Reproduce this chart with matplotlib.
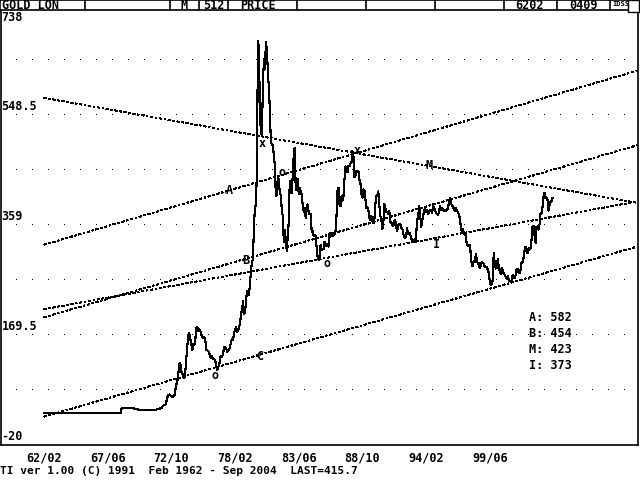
import matplotlib
matplotlib.use("Agg")
import matplotlib.pyplot as plt
from matplotlib.lines import Line2D
from matplotlib.patches import Rectangle
import numpy as np

# ---------------- data (monthly London gold, Feb 1962 - Sep 2004) ----------------
gold_1962_1967 = [35.1] * 11 + [35.1] * 12 * 4 + [35.2] * 12
gold_1968_1971 = [35.2, 35.2, 35.2, 35.2, 35.2, 35.2, 35.2, 43.0, 43.5, 43.3, 43.0, 43.0,
                  43.0, 43.5, 43.5, 43.3, 43.5, 43.0, 43.0, 43.0, 42.5, 42.0, 41.5, 41.5,
                  41.0, 41.0, 41.0, 40.5, 40.5, 40.5, 40.5, 40.5, 40.5, 40.5, 40.5, 40.5,
                  40.5, 40.5, 40.5, 40.5, 41.0, 41.0, 41.0, 42.7, 42.0, 42.5, 42.9, 43.5]
gold_1972_1979 = [45.8, 48.3, 48.3, 49.0, 54.6, 62.1, 65.7, 67.0, 65.5, 64.9, 62.9, 63.9,
                  65.1, 74.2, 84.4, 90.5, 102.0, 120.1, 120.4, 106.8, 103.0, 100.1, 94.8, 106.7,
                  129.2, 150.2, 168.4, 172.2, 163.3, 154.1, 143.0, 154.6, 151.8, 158.8, 181.7, 183.9,
                  176.3, 179.6, 178.2, 170.0, 167.0, 164.3, 165.2, 163.1, 144.6, 142.8, 142.5, 139.3,
                  131.6, 130.7, 132.7, 128.1, 128.0, 125.7, 117.6, 109.3, 114.3, 116.1, 130.2, 133.7,
                  132.3, 136.4, 148.5, 149.3, 146.6, 140.8, 143.4, 144.6, 149.1, 158.6, 162.1, 160.5,
                  173.0, 178.0, 183.7, 175.3, 176.3, 183.7, 188.7, 206.0, 212.1, 227.3, 206.1, 207.8,
                  227.3, 245.7, 242.0, 239.2, 257.6, 279.1, 294.7, 301.0, 355.2, 392.0, 392.1, 455.1]
gold_1980_1989 = [675.3, 665.3, 553.6, 517.4, 513.8, 600.7, 644.3, 627.0, 673.8, 661.1, 623.5, 594.9,
                  557.4, 500.5, 498.7, 495.8, 479.7, 460.8, 409.3, 410.1, 443.1, 437.8, 413.4, 410.1,
                  384.2, 374.1, 330.2, 350.2, 333.9, 314.9, 339.0, 364.3, 435.0, 422.2, 414.1, 444.3,
                  481.3, 492.0, 420.0, 432.6, 437.9, 413.0, 422.8, 416.1, 411.8, 393.8, 381.8, 388.0,
                  370.8, 386.0, 394.4, 381.2, 377.6, 377.9, 347.8, 348.0, 341.1, 340.2, 341.2, 320.2,
                  303.0, 299.1, 304.2, 325.3, 316.7, 316.9, 317.4, 330.1, 323.3, 326.3, 325.2, 321.8,
                  345.4, 338.9, 345.7, 340.4, 342.4, 342.6, 348.4, 376.7, 418.0, 423.5, 394.9, 391.0,
                  408.3, 401.0, 408.9, 438.3, 460.2, 449.6, 450.5, 460.8, 460.0, 465.3, 467.1, 486.2,
                  477.3, 442.0, 443.6, 451.7, 451.4, 451.8, 437.4, 431.4, 413.0, 406.3, 420.2, 418.7,
                  404.0, 387.8, 390.2, 384.3, 371.0, 367.6, 375.0, 365.4, 361.9, 366.9, 394.3, 409.0]
gold_1990_1999 = [410.1, 416.8, 393.1, 374.3, 369.2, 352.3, 362.5, 394.7, 389.3, 380.8, 381.8, 378.2,
                  383.6, 363.8, 363.3, 358.4, 356.8, 366.7, 367.7, 356.3, 348.7, 358.7, 359.9, 361.1,
                  354.5, 353.9, 344.3, 338.6, 337.2, 340.8, 353.1, 342.9, 345.4, 344.4, 335.0, 334.8,
                  329.0, 329.3, 329.9, 341.8, 367.5, 371.9, 392.0, 378.8, 355.3, 364.2, 373.8, 383.3,
                  386.9, 381.9, 384.1, 377.3, 381.4, 385.6, 385.5, 380.4, 391.6, 389.8, 384.4, 379.3,
                  378.6, 376.5, 382.1, 391.0, 385.2, 387.6, 386.2, 383.7, 383.1, 383.1, 386.0, 387.4,
                  400.0, 404.8, 396.3, 392.8, 392.0, 385.3, 383.5, 387.5, 383.1, 381.1, 377.8, 369.0,
                  355.0, 346.6, 351.8, 344.5, 343.8, 340.8, 324.1, 323.9, 322.8, 324.9, 306.0, 288.7,
                  289.1, 297.5, 295.9, 308.4, 299.1, 292.3, 292.9, 284.1, 288.9, 295.9, 294.1, 291.7,
                  287.1, 287.3, 285.9, 282.6, 276.4, 261.3, 256.1, 256.7, 264.7, 310.7, 293.2, 284.1]
gold_2000_2004 = [284.6, 300.0, 286.4, 279.9, 275.3, 285.7, 281.6, 274.5, 273.7, 270.0, 266.0, 271.5,
                  265.5, 261.9, 263.0, 260.5, 272.4, 270.2, 267.5, 272.4, 283.4, 283.1, 276.2, 275.9,
                  281.7, 295.5, 294.0, 302.7, 314.5, 321.2, 313.3, 310.3, 319.2, 316.6, 319.2, 333.4,
                  356.9, 358.0, 340.6, 328.2, 355.7, 356.4, 351.0, 359.8, 378.9, 378.9, 389.9, 407.6,
                  414.0, 405.3, 406.7, 403.0, 383.8, 392.4, 398.1, 400.5, 405.3]

# x tick labels (month index from Feb 1962) and labels
tick_months = [0, 64, 128, 192, 256, 320, 384, 448]
tick_labels = ["62/02", "67/06", "72/10", "78/02", "83/06", "88/10", "94/02", "99/06"]
y_levels = [738, 548.5, 359, 169.5, -20]
y_labels = ["738", "548.5", "359", "169.5", "-20"]

# trend lines: value at first month (0) and at last data month (511)
trend_names = ["A", "B", "M", "I", "C"]
trend_first = [325, 200, 578, 214, 29]
trend_last = [582, 454, 423, 373, 280]
shown_trends = ["A", "B", "M", "I"]

# pivot marks (month index, price)
x_marks_m = [219, 314.6]
x_marks_v = [500, 486.5]
o_marks_m = [239, 284.4, 171.9]
o_marks_v = [450, 292, 99]
# line labels (month index, price)
lbl_names = ["A", "B", "C", "M", "I"]
lbl_m = [186, 203, 217, 387, 395]
lbl_v = [419, 297, 132, 462, 325]

prices = np.array(gold_1962_1967 + gold_1968_1971 + gold_1972_1979 +
                  gold_1980_1989 + gold_1990_1999 + gold_2000_2004)
months = np.arange(len(prices))
LAST_M = len(prices) - 1

# ---------------- figure ----------------
W, H = 640, 480
fig = plt.figure(figsize=(6.4, 4.8), dpi=100)
fig.patch.set_facecolor("white")

AX_L, AX_R, AX_T, AX_B = 1, 638, 5, 445          # pixel box of the plot area
ax = fig.add_axes([AX_L / W, 1 - AX_B / H, (AX_R - AX_L) / W, (AX_B - AX_T) / H])
PX0, PXM = 44.0, 0.995                            # pixel of month 0, pixels per month
def px2m(px):
    return (px - PX0) / PXM
ax.set_xlim(px2m(AX_L), px2m(AX_R))
ax.set_ylim(-20, 738)
ax.set_facecolor("white")
for s in ["left", "right", "bottom"]:
    ax.spines[s].set_linewidth(1.2)
    ax.spines[s].set_color("black")
ax.spines["top"].set_visible(False)

FONT = "DejaVu Sans Mono"
FS = 8.5

# grid dots
grid_vals = [643.25, 548.5, 453.75, 359, 264.25, 169.5, 74.75]
dot_x = [px2m(16 * k) for k in range(1, 40)]
gx, gy = np.meshgrid(dot_x, grid_vals)
ax.plot(gx.ravel(), gy.ravel(), linestyle="none", marker=",", color="black")

# trend lines
x_end = px2m(AX_R - 1)
for f, l in zip(trend_first, trend_last):
    slope = (l - f) / LAST_M
    ax.plot([0, x_end], [f, f + slope * x_end], color="black", lw=0.8,
            linestyle=(0, (2.5, 2, 1, 2)), antialiased=False)

# price line
ax.plot(months, prices, color="black", lw=0.8, antialiased=False, zorder=5)

# marks
for m, v in zip(x_marks_m, x_marks_v):
    ax.text(m, v, "x", ha="center", va="center", fontsize=FS, family=FONT, weight="bold")
for m, v in zip(o_marks_m, o_marks_v):
    ax.text(m, v, "o", ha="center", va="center", fontsize=FS, family=FONT, weight="bold")
for n, m, v in zip(lbl_names, lbl_m, lbl_v):
    ax.text(m, v, n, ha="center", va="center", fontsize=FS, family=FONT, weight="bold")

# y labels inside plot
for lv, lt in zip(y_levels, y_labels):
    va = "top" if lv == y_levels[0] else "bottom"
    off = -6 if lv == y_levels[0] else 2
    ax.annotate(lt, xy=(0, lv), xycoords=("axes fraction", "data"),
                xytext=(0.5, off), textcoords="offset pixels",
                ha="left", va=va, fontsize=FS, family=FONT, weight="bold")

# x tick labels
ax.set_xticks(tick_months)
ax.set_xticklabels(tick_labels, family=FONT, weight="bold", fontsize=FS)
ax.tick_params(axis="x", length=0, pad=5)
ax.set_yticks([])

# value box
vals_txt = []
for n in shown_trends:
    vals_txt.append(f"{n}: {trend_last[trend_names.index(n)]}")
for i, t in enumerate(vals_txt):
    fig.text(529 / W, 1 - (317.5 + 16 * i) / H, t, ha="left", va="center",
             fontsize=FS, family=FONT, weight="bold")

# header
def fy(py):
    return 1 - py / H
fig.patches.append(Rectangle((0, fy(10)), 638 / W, 10 / H, transform=fig.transFigure,
                             facecolor="white", edgecolor="black", lw=1.2, zorder=10))
for sx in [85, 170, 199, 228, 297, 366, 435, 504, 557, 610]:
    fig.lines.append(Line2D([sx / W, sx / W], [fy(0), fy(10)], transform=fig.transFigure,
                            color="black", lw=1.2, zorder=11))
fig.patches.append(Rectangle((628 / W, fy(12)), 11 / W, 12 / H, transform=fig.transFigure,
                             facecolor="white", edgecolor="black", lw=1.0, zorder=12))
header_items = [("GOLD LON", 2, "left"), ("M", 184, "center"), ("512", 214, "center"),
                ("PRICE", 258, "center"), ("6202", 529, "center"), ("0409", 583, "center")]
for t, hx, ha in header_items:
    fig.text(hx / W, fy(5.5), t, ha=ha, va="center", fontsize=FS, family=FONT,
             weight="bold", zorder=13)
fig.text(612 / W, fy(4), "IDSS", ha="left", va="center", fontsize=5, family=FONT,
         weight="bold", zorder=13)

# footer
fig.text(0.5 / W, fy(471), "TI ver 1.00 (C) 1991  Feb 1962 - Sep 2004  LAST=415.7",
         ha="left", va="center", fontsize=8, family=FONT, weight="bold")

fig.savefig("out.png", dpi=100, facecolor="white")
